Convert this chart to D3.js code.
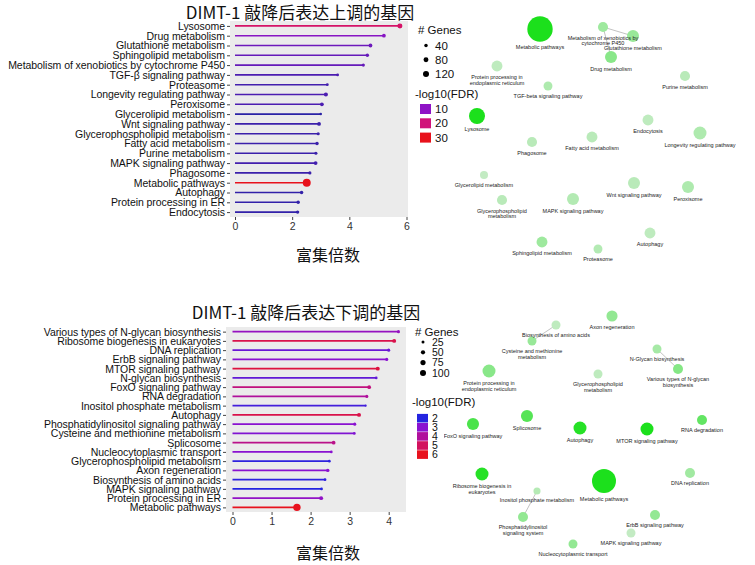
<!DOCTYPE html>
<html>
<head>
<meta charset="utf-8">
<script src="https://cdn.jsdelivr.net/npm/d3@7"></script>
<style>
  body { margin: 0; background: #fff; }
  svg { display: block; font-family: "Liberation Sans", Arial, sans-serif; }
</style>
</head>
<body>
<script>
// ---- up-regulated genes (top chart) ----
const upPathways = [
  "Lysosome", "Drug metabolism", "Glutathione metabolism", "Sphingolipid metabolism",
  "Metabolism of xenobiotics by cytochrome P450", "TGF-β signaling pathway", "Proteasome",
  "Longevity regulating pathway", "Peroxisome", "Glycerolipid metabolism", "Wnt signaling pathway",
  "Glycerophospholipid metabolism", "Fatty acid metabolism", "Purine metabolism",
  "MAPK signaling pathway", "Phagosome", "Metabolic pathways", "Autophagy",
  "Protein processing in ER", "Endocytosis"
];
const upFold = [5.77, 5.21, 4.74, 4.63, 4.49, 3.59, 3.23, 3.18, 3.04, 3.0, 2.94, 2.91, 2.87, 2.83, 2.82, 2.62, 2.51, 2.33, 2.21, 2.19];
const upGenes = [83, 47, 47, 39, 33, 26, 26, 55, 47, 21, 47, 33, 39, 33, 47, 33, 210, 39, 39, 39];
const upFDR = [22, 9.5, 8, 7.5, 7.5, 6, 5.5, 6, 6, 4, 5, 5, 5, 5, 5.5, 5, 30, 4.5, 4.5, 4.5];
const upFoldTicks = [0, 2, 4, 6];
const upGeneTicks = [40, 80, 120];
const upFDRTicks = [10, 20, 30];

// network view of the same pathways (layout units)
const upNetLabels = [
  "Lysosome", "Drug metabolism", "Glutathione metabolism", "Sphingolipid metabolism",
  "Metabolism of xenobiotics by|cytochrome P450", "TGF-beta signaling pathway", "Proteasome",
  "Longevity regulating pathway", "Peroxisome", "Glycerolipid metabolism", "Wnt signaling pathway",
  "Glycerophospholipid|metabolism", "Fatty acid metabolism", "Purine metabolism",
  "MAPK signaling pathway", "Phagosome", "Metabolic pathways", "Autophagy",
  "Protein processing in|endoplasmic reticulum", "Endocytosis"
];
const upNetX = [37, 171, 193, 102, 163, 108, 158, 260, 248, 44, 194, 62, 152, 245, 133, 92, 100, 210, 57, 208];
const upNetY = [116, 57, 36, 242, 27, 86, 249, 133, 187, 175, 183, 200, 137, 76, 199, 142, 29, 233, 66, 120];
const upEdges = [[4, 2], [4, 1]];

// ---- down-regulated genes (bottom chart) ----
const downPathways = [
  "Various types of N-glycan biosynthesis", "Ribosome biogenesis in eukaryotes", "DNA replication",
  "ErbB signaling pathway", "MTOR signaling pathway", "N-glycan biosynthesis", "FoxO signaling pathway",
  "RNA degradation", "Inositol phosphate metabolism", "Autophagy",
  "Phosphatidylinositol signaling pathway", "Cysteine and methionine metabolism", "Splicosome",
  "Nucleocytoplasmic transport", "Glycerophospholipid metabolism", "Axon regeneration",
  "Biosynthesis of amino acids", "MAPK signaling pathway", "Protein processing in ER", "Metabolic pathways"
];
const downFold = [4.25, 4.14, 4.0, 3.95, 3.72, 3.68, 3.5, 3.44, 3.41, 3.24, 3.13, 3.12, 2.59, 2.53, 2.48, 2.44, 2.37, 2.28, 2.27, 1.65];
const downGenes = [26, 44, 26, 26, 44, 21, 38, 26, 13, 44, 26, 21, 38, 21, 21, 32, 21, 21, 44, 150];
const downFDR = [3.3, 5.3, 2.7, 3.0, 5.5, 2.6, 4.5, 4.0, 2.3, 5.3, 3.0, 2.9, 4.3, 3.0, 2.1, 3.0, 2.1, 2.0, 3.2, 6.0];
const downFoldTicks = [0, 1, 2, 3, 4];
const downGeneTicks = [25, 50, 75, 100];
const downFDRTicks = [2, 3, 4, 5, 6];

const downNetLabels = [
  "Various types of N-glycan|biosynthesis", "Ribosome biogenesis in|eukaryotes", "DNA replication",
  "ErbB signaling pathway", "MTOR signaling pathway", "N-Glycan biosynthesis", "FoxO signaling pathway",
  "RNA degradation", "Inositol phosphate metabolism", "Autophagy",
  "Phosphatidylinositol|signaling system", "Cysteine and methionine|metabolism", "Splicosome",
  "Nucleocytoplasmic transport", "Glycerophospholipid|metabolism", "Axon regeneration",
  "Biosynthesis of amino acids", "MAPK signaling pathway", "Protein processing in|endoplasmic reticulum",
  "Metabolic pathways"
];
const downNetX = [238, 42, 250, 215, 207, 217, 33, 262, 97, 140, 83, 92, 87, 133, 158, 172, 116, 191, 49, 164];
const downNetY = [69, 174, 173, 215, 129, 49, 124, 120, 191, 128, 217, 41, 116, 244, 74, 16, 25, 233, 71, 181];
const downEdges = [[5, 0], [16, 11], [8, 10]];

const svg = d3.select("body").append("svg").attr("width", 755).attr("height", 565);

// soft edge for the network bubbles
svg.append("defs").append("filter").attr("id", "soft")
  .append("feGaussianBlur").attr("stdDeviation", 0.7);

function drawLollipop(o) {
  const g = svg.append("g");
  const rows = o.pathways.map((p, i) => ({
    name: p, fold: o.fold[i], genes: o.genes[i], fdr: o.fdr[i]
  }));

  const x = d3.scaleLinear().domain([0, o.xMax]).range([o.x0, o.x1]);
  const y = d3.scalePoint().domain(o.pathways).range([o.top, o.bottom]).padding(0.5);
  const r = d3.scaleSqrt().domain([0, o.geneMax]).range([0, o.rMax]);
  const color = d3.scaleLinear().domain(o.colorDomain).range(o.colorRange).clamp(true);

  // grey panel
  g.append("rect")
    .attr("x", o.left).attr("y", o.top)
    .attr("width", o.right - o.left).attr("height", o.bottom - o.top)
    .attr("fill", "#ebebeb");

  const xAxis = g.append("g")
    .attr("transform", `translate(0,${o.bottom})`)
    .call(d3.axisBottom(x).tickValues(o.xTicks).tickSize(3).tickPadding(3).tickFormat(d3.format("d")));
  xAxis.select(".domain").remove();
  xAxis.selectAll("line").attr("stroke", "#444");
  xAxis.selectAll("text").attr("font-size", 10.5).attr("fill", "#333").attr("font-family", null);

  const yAxis = g.append("g")
    .attr("transform", `translate(${o.left},0)`)
    .call(d3.axisLeft(y).tickSize(3).tickPadding(2));
  yAxis.select(".domain").remove();
  yAxis.selectAll("line").attr("stroke", "#444");
  yAxis.selectAll("text").attr("font-size", 10.5).attr("fill", "#111")
    .attr("font-family", null).attr("letter-spacing", -0.06);

  g.append("g").selectAll("line")
    .data(rows)
    .join("line")
    .attr("x1", x(0))
    .attr("x2", (d) => x(d.fold))
    .attr("y1", (d) => y(d.name))
    .attr("y2", (d) => y(d.name))
    .attr("stroke", (d) => color(d.fdr))
    .attr("stroke-width", 1.6);

  g.append("g").selectAll("circle")
    .data(rows)
    .join("circle")
    .attr("cx", (d) => x(d.fold))
    .attr("cy", (d) => y(d.name))
    .attr("r", (d) => r(d.genes))
    .attr("fill", (d) => color(d.fdr));

  // titles
  g.append("text")
    .attr("x", o.titleX).attr("y", o.titleY)
    .attr("text-anchor", "middle")
    .attr("font-family", "Noto Sans CJK SC")
    .attr("font-size", 17)
    .attr("fill", "#111")
    .text(o.title);

  g.append("text")
    .attr("x", 328).attr("y", o.xTitleY)
    .attr("text-anchor", "middle")
    .attr("font-family", "Noto Sans CJK SC")
    .attr("font-size", 16)
    .attr("fill", "#111")
    .text("富集倍数");

  // size legend
  const lg = g.append("g").attr("font-size", o.legFont).attr("fill", "#111");
  lg.append("text").attr("x", o.legX).attr("y", o.sizeY).attr("dy", "0.35em")
    .attr("font-size", 11.5).text("# Genes");
  o.geneTicks.forEach((v, i) => {
    const cy = o.sizeY + o.sizeGap + o.sizeStep * i;
    lg.append("circle").attr("cx", o.legX + 8).attr("cy", cy).attr("r", r(v)).attr("fill", "#000");
    lg.append("text").attr("x", o.legX + 17).attr("y", cy).attr("dy", "0.35em").text(v);
  });

  // colour legend
  lg.append("text").attr("x", o.legX - 3).attr("y", o.colY).attr("dy", "0.35em")
    .attr("font-size", 11.5).text("-log10(FDR)");
  o.fdrTicks.forEach((v, i) => {
    const cy = o.colY + o.colGap + o.colStep * i;
    lg.append("rect")
      .attr("x", o.legX + 2).attr("y", cy - o.keyH / 2)
      .attr("width", 11).attr("height", o.keyH)
      .attr("fill", color(v));
    lg.append("text").attr("x", o.legX + 17).attr("y", cy).attr("dy", "0.35em").text(v);
  });
}

function drawNetwork(o) {
  const nodes = o.labels.map((l, i) => ({
    label: l, lx: o.nx[i], ly: o.ny[i], genes: o.genes[i], fdr: o.fdr[i]
  }));
  const px = d3.scaleLinear().domain([0, 315]).range([o.x0, o.x0 + 315]);
  const py = d3.scaleLinear().domain([0, 270]).range([o.y0, o.y0 + 270]);
  const r = d3.scaleSqrt().domain([0, d3.max(o.genes)]).range([0, o.rMax]);
  const green = d3.scaleLinear().domain(o.greenDomain)
    .range(["#c3ebc3", "#1be01b"]).clamp(true);

  const clipId = "clip" + o.y0;
  svg.select("defs").append("clipPath").attr("id", clipId)
    .append("rect").attr("x", 444).attr("y", o.y0).attr("width", 311).attr("height", 280);

  const g = svg.append("g").attr("clip-path", `url(#${clipId})`);

  g.append("g").selectAll("line")
    .data(o.edges)
    .join("line")
    .attr("x1", (d) => px(nodes[d[0]].lx))
    .attr("y1", (d) => py(nodes[d[0]].ly))
    .attr("x2", (d) => px(nodes[d[1]].lx))
    .attr("y2", (d) => py(nodes[d[1]].ly))
    .attr("stroke", "#999")
    .attr("stroke-width", 0.6);

  g.append("g").selectAll("circle")
    .data(nodes)
    .join("circle")
    .attr("cx", (d) => px(d.lx))
    .attr("cy", (d) => py(d.ly))
    .attr("r", (d) => r(d.genes))
    .attr("fill", (d) => green(d.fdr))
    .attr("filter", "url(#soft)");

  const labels = g.append("g").selectAll("text")
    .data(nodes)
    .join("text")
    .attr("x", (d) => px(d.lx))
    .attr("y", (d) => py(d.ly) + r(d.genes) + 7.5)
    .attr("text-anchor", "middle")
    .attr("font-size", 5.5)
    .attr("fill", "#222");

  labels.each(function (d) {
    const t = d3.select(this);
    d.label.split("|").forEach((line, i) => {
      t.append("tspan")
        .attr("x", px(d.lx))
        .attr("dy", i === 0 ? 0 : 5.8)
        .text(line);
    });
  });
}

drawLollipop({
  title: "DIMT-1 敲降后表达上调的基因", titleX: 300, titleY: 18.5,
  pathways: upPathways, fold: upFold, genes: upGenes, fdr: upFDR,
  xMax: 6, x0: 235, x1: 406.5, xTicks: upFoldTicks,
  left: 230, right: 408, top: 21, bottom: 217,
  geneMax: 120, rMax: 3,
  colorDomain: [4, 10, 20, 30], colorRange: ["#2a22a6", "#8f14c6", "#d0127a", "#e8121c"],
  xTitleY: 261,
  legX: 418, sizeY: 30, sizeGap: 15.5, sizeStep: 14.2, geneTicks: upGeneTicks, legFont: 11.5,
  colY: 94, colGap: 15, colStep: 14.3, keyH: 10, fdrTicks: upFDRTicks
});

drawLollipop({
  title: "DIMT-1 敲降后表达下调的基因", titleX: 306, titleY: 319,
  pathways: downPathways, fold: downFold, genes: downGenes, fdr: downFDR,
  xMax: 4, x0: 232.5, x1: 388.7, xTicks: downFoldTicks,
  left: 226, right: 406, top: 327, bottom: 512,
  geneMax: 100, rMax: 3,
  colorDomain: [2, 3, 4, 5, 6], colorRange: ["#2424e0", "#8a12d0", "#b0109c", "#d2125e", "#e8121e"],
  xTitleY: 559,
  legX: 415, sizeY: 332, sizeGap: 10, sizeStep: 10.3, geneTicks: downGeneTicks, legFont: 10.5,
  colY: 402, colGap: 16.2, colStep: 9.1, keyH: 8.6, fdrTicks: downFDRTicks
});

drawNetwork({
  labels: upNetLabels, nx: upNetX, ny: upNetY, genes: upGenes, fdr: upFDR,
  edges: upEdges, x0: 440, y0: 0, rMax: 12.7, greenDomain: [4, 20]
});

drawNetwork({
  labels: downNetLabels, nx: downNetX, ny: downNetY, genes: downGenes, fdr: downFDR,
  edges: downEdges, x0: 440, y0: 300, rMax: 12, greenDomain: [2, 5.5]
});
</script>
</body>
</html>
